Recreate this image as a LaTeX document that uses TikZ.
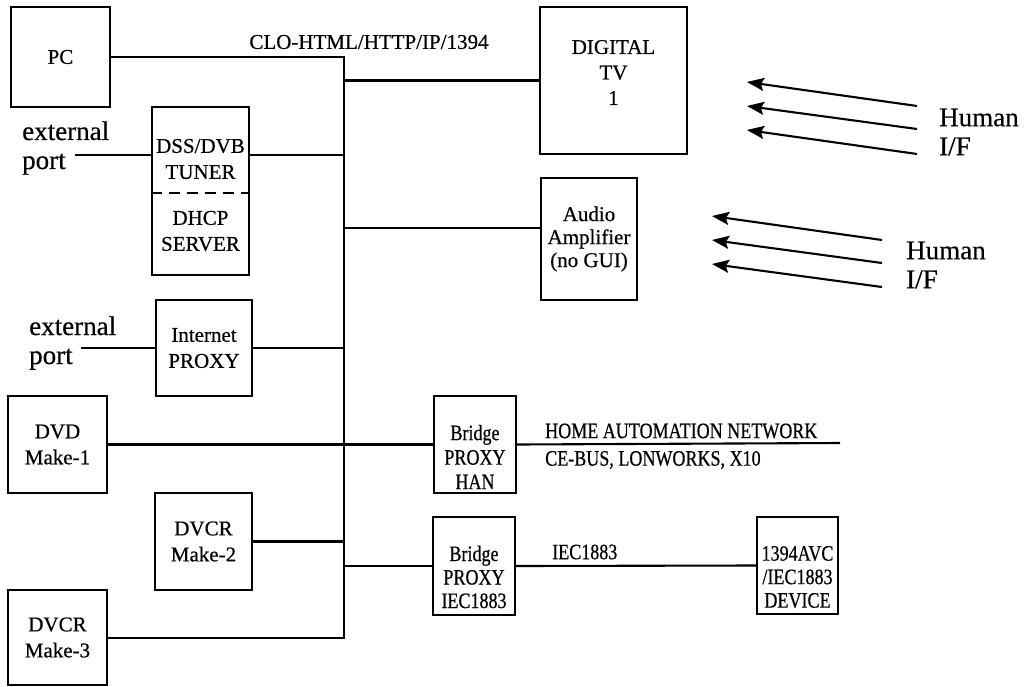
\documentclass[tikz,border=0pt]{standalone}
\usepackage{fontspec}
\setmainfont{Liberation Serif}[FakeBold=0.5]
\newfontfamily\narrowserif{Liberation Serif}[FakeStretch=0.82,FakeBold=0.5]
\usetikzlibrary{arrows.meta}
\begin{document}
\begin{tikzpicture}[x=1pt,y=-1pt,
  wire/.style={line width=2.1pt},
  box/.style={draw,line width=2.1pt,rectangle,inner sep=0pt,align=center,
    font=\fontsize{21}{26}\selectfont},
  lbl/.style={inner sep=0pt,font=\fontsize{21}{26}\selectfont},
  nbody/.style={inner sep=0pt,align=center,font=\narrowserif\fontsize{22}{24.5}\selectfont},
  nlbl/.style={inner sep=0pt,anchor=west,font=\narrowserif\fontsize{22}{28}\selectfont},
  biglbl/.style={inner sep=0pt,anchor=west,align=left,font=\fontsize{27}{29}\selectfont},
  hif/.style={line width=2.1pt,-{Stealth[length=17pt,width=13pt,inset=3pt]}}]
\useasboundingbox (0,0) rectangle (1028,686);

% devices and proxies
\node[box,minimum width=99,minimum height=100] (pc) at (60.5,57) {PC};
\node[box,minimum width=147,minimum height=147] (tv) at (613.5,80.5) {};
\node[lbl,align=center,font=\fontsize{21}{25.5}\selectfont] (tvtext) at (613.5,72.5) {DIGITAL\\TV\\1};
\node[box,minimum width=97,minimum height=168] (dss) at (200.5,191) {};
\node[lbl,align=center] (tuner) at (200.5,159) {DSS/DVB\\TUNER};
\node[lbl,align=center] (dhcp) at (200.5,231) {DHCP\\SERVER};
\node[box,minimum width=96,minimum height=122,font=\fontsize{21}{23}\selectfont] (audio) at (589,239) {Audio\\Amplifier\\(no GUI)};
\node[box,minimum width=96,minimum height=96] (inet) at (204,348) {Internet\\PROXY};
\node[box,minimum width=99,minimum height=97] (dvd) at (57.5,444.5) {DVD\\Make-1};
\node[box,minimum width=82,minimum height=97] (han) at (475,444.5) {};
\node[nbody] (hantext) at (475,457) {Bridge\\PROXY\\HAN};
\node[box,minimum width=97,minimum height=97] (dvcr2) at (203.5,541.5) {DVCR\\Make-2};
\node[box,minimum width=82,minimum height=98] (iec) at (474,566) {};
\node[nbody,font=\narrowserif\fontsize{22}{23.5}\selectfont] (iectext) at (474,577) {Bridge\\PROXY\\IEC1883};
\node[box,minimum width=81,minimum height=97] (dev) at (797.5,565.5) {};
\node[nbody,font=\narrowserif\fontsize{22}{23.5}\selectfont] (devtext) at (797.5,577) {1394AVC\\/IEC1883\\DEVICE};
\node[box,minimum width=99,minimum height=95] (dvcr3) at (57.5,637.5) {DVCR\\Make-3};

% dashed split inside the tuner / DHCP box
\draw[line width=1.8pt,dash pattern=on 11pt off 7pt] (dss.west |- 0,193) -- (dss.east |- 0,193);

% backbone bus
\coordinate (bus) at (344,57);
\coordinate (busend) at (344,638);
\draw[wire] (pc.east) -- (bus) -- (busend) -- (dvcr3.east |- busend);

\node[lbl] (clo) at (369,42) {CLO-HTML/HTTP/IP/1394};

% links to the bus
\draw[wire] (tv.west) -- (tv.west -| bus);
\coordinate (tunerport) at (249,155);
\draw[wire] (tunerport) -- (tunerport -| bus);
\coordinate (audport) at (541,228);
\draw[wire] (audport) -- (audport -| bus);
\draw[wire] (inet.east) -- (inet.east -| bus);
\draw[wire] (dvcr2.east) -- (dvcr2.east -| bus);
\draw[wire] (iec.west -| bus) -- (iec.west);

% external ports
\coordinate (ext1) at (75,155);
\draw[wire] (ext1) -- (ext1 -| dss.west);
\node[biglbl] (ext1lbl) at (22,148) {external\\port};
\coordinate (ext2) at (81,348);
\draw[wire] (ext2) -- (inet.west);
\node[biglbl] (ext2lbl) at (29,343) {external\\port};

% home automation network
\draw[wire] (dvd.east) -- (han.west);
\coordinate (hanend) at (840,443);
\draw[wire] (han.east) -- (hanend);
\node[nlbl] (hanlbl) at (545,431) {HOME AUTOMATION NETWORK};
\node[nlbl] (cebus) at (545,460) {CE-BUS, LONWORKS, X10};

% IEC1883 link
\draw[wire] (iec.east) -- (dev.west);
\node[nlbl] (ieclbl) at (552,552) {IEC1883};

% human interfaces
\coordinate (a1t) at (917,106); \coordinate (a1h) at (747,82);
\coordinate (a2t) at (917,129); \coordinate (a2h) at (747,106);
\coordinate (a3t) at (917,154); \coordinate (a3h) at (747,130);
\draw[hif] (a1t) -- (a1h);
\draw[hif] (a2t) -- (a2h);
\draw[hif] (a3t) -- (a3h);
\node[biglbl] (hif1) at (939,132) {Human\\I/F};

\coordinate (b1t) at (882,240); \coordinate (b1h) at (712,216);
\coordinate (b2t) at (882,263); \coordinate (b2h) at (712,240);
\coordinate (b3t) at (882,287); \coordinate (b3h) at (712,264);
\draw[hif] (b1t) -- (b1h);
\draw[hif] (b2t) -- (b2h);
\draw[hif] (b3t) -- (b3h);
\node[biglbl] (hif2) at (906,265) {Human\\I/F};
\end{tikzpicture}
\end{document}
